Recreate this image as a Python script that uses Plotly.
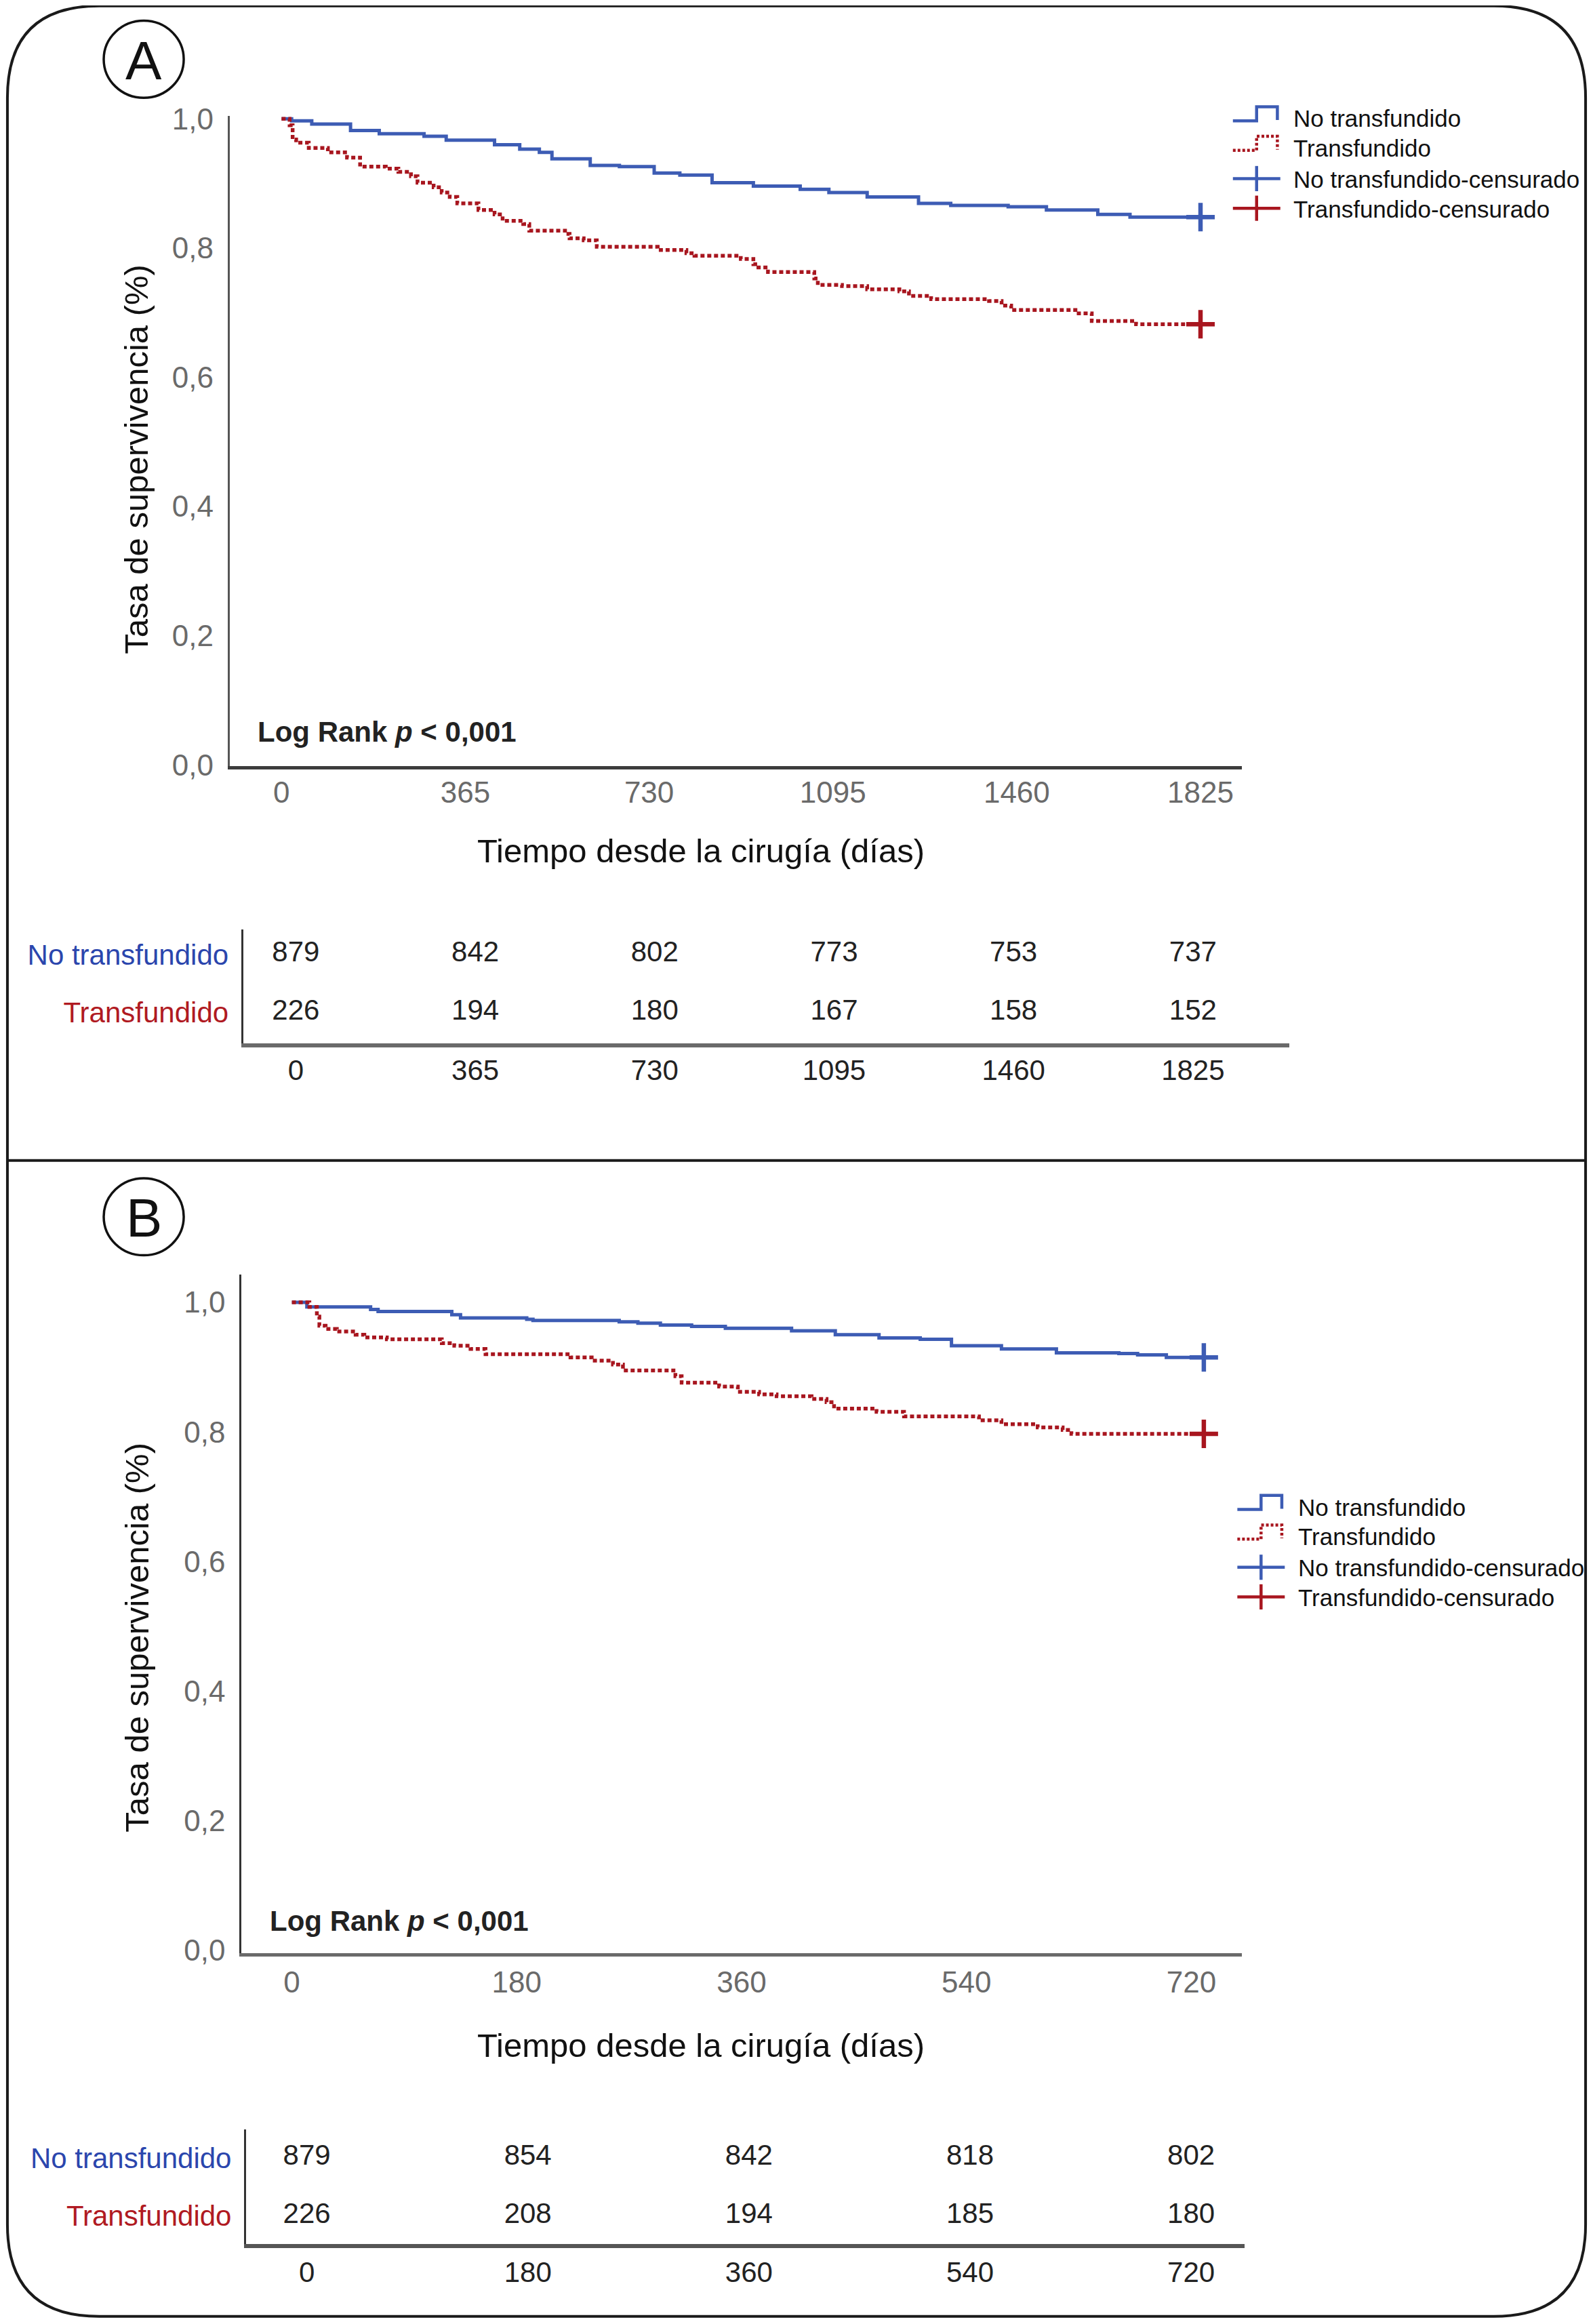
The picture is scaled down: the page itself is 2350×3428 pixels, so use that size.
import plotly.graph_objects as go

# ---------------- DATA ----------------
# Panel A (5 years)
time_A_no = [0, 20, 60, 137, 194, 283, 327, 423, 473, 512, 537, 613, 671, 740, 791, 855, 937,
             1030, 1087, 1163, 1265, 1329, 1443, 1519, 1621, 1685, 1825]
surv_A_no = [1.000, 0.997, 0.992, 0.982, 0.977, 0.973, 0.967, 0.960, 0.953, 0.948, 0.938, 0.928,
             0.926, 0.916, 0.913, 0.901, 0.896, 0.891, 0.886, 0.879, 0.869, 0.866, 0.864, 0.859,
             0.852, 0.848, 0.848]
time_A_tr = [0, 16, 22, 29, 54, 92, 130, 156, 207, 232, 257, 270, 302, 318, 334, 349, 391, 423,
             439, 480, 492, 563, 572, 600, 626, 747, 804, 820, 912, 937, 947, 966, 1058, 1065,
             1113, 1163, 1227, 1246, 1290, 1405, 1430, 1449, 1583, 1609, 1697, 1825]
surv_A_tr = [1.000, 0.990, 0.968, 0.963, 0.955, 0.948, 0.940, 0.926, 0.923, 0.918, 0.911, 0.901,
             0.894, 0.886, 0.879, 0.869, 0.859, 0.852, 0.842, 0.837, 0.827, 0.822, 0.815, 0.812,
             0.802, 0.797, 0.792, 0.788, 0.783, 0.775, 0.770, 0.763, 0.753, 0.743, 0.741, 0.736,
             0.733, 0.726, 0.721, 0.718, 0.711, 0.704, 0.699, 0.687, 0.682, 0.682]
cens_A_no = [1825]
cens_A_tr = [1825]

# Panel B (2 years)
time_B_no = [0, 12, 63, 69, 128, 135, 188, 193, 262, 277, 295, 320, 347, 400, 435, 470, 503,
             528, 568, 612, 662, 677, 700, 730]
surv_B_no = [1.000, 0.993, 0.989, 0.986, 0.981, 0.976, 0.974, 0.972, 0.970, 0.968, 0.965, 0.963,
             0.960, 0.956, 0.950, 0.945, 0.943, 0.933, 0.928, 0.922, 0.921, 0.919, 0.915, 0.915]
time_B_tr = [0, 14, 20, 22, 27, 36, 51, 58, 76, 120, 130, 143, 155, 223, 240, 257, 265, 307, 312,
             342, 357, 374, 388, 416, 428, 434, 468, 490, 550, 568, 597, 617, 624, 730]
surv_B_tr = [1.000, 0.993, 0.978, 0.964, 0.959, 0.955, 0.950, 0.946, 0.943, 0.937, 0.933, 0.928,
             0.920, 0.915, 0.910, 0.904, 0.895, 0.886, 0.876, 0.870, 0.862, 0.858, 0.855, 0.851,
             0.846, 0.836, 0.831, 0.824, 0.818, 0.812, 0.807, 0.803, 0.797, 0.797]
cens_B_no = [730]
cens_B_tr = [730]

# Risk tables
risk_times_A = [0, 365, 730, 1095, 1460, 1825]
risk_A_no = [879, 842, 802, 773, 753, 737]
risk_A_tr = [226, 194, 180, 167, 158, 152]
risk_times_B = [0, 180, 360, 540, 720]
risk_B_no = [879, 854, 842, 818, 802]
risk_B_tr = [226, 208, 194, 185, 180]

xticks_A = [0, 365, 730, 1095, 1460, 1825]
xticks_B = [0, 180, 360, 540, 720]
yticks = [0.0, 0.2, 0.4, 0.6, 0.8, 1.0]

group_labels = ["No transfundido", "Transfundido"]
legend_labels = ["No transfundido", "Transfundido", "No transfundido-censurado", "Transfundido-censurado"]
panel_letters = ["A", "B"]
x_title = "Tiempo desde la cirugía (días)"
y_title = "Tasa de supervivencia (%)"
logrank_text = "<b>Log Rank <i>p</i> &lt; 0,001</b>"

# ---------------- STYLE ----------------
W, H = 2350, 3428
S = 2350 / 1075.0
OFF = 8  # page body margin compensation (px)
BLUE = "#3d5cb4"
RED = "#a8161f"
BLUE_TXT = "#2b46ad"
RED_TXT = "#b01a22"
FONT = "Liberation Sans, Arial, sans-serif"


def fx(d):
    return (d * S - OFF) / W


def fy(d):
    return 1 - (d * S - OFF) / H


def surv_at(times, survs, t):
    v = survs[0]
    for ti, si in zip(times, survs):
        if ti <= t:
            v = si
    return v


fig = go.Figure()

panels = [
    dict(xa="x", ya="y", t_no=time_A_no, s_no=surv_A_no, t_tr=time_A_tr, s_tr=surv_A_tr,
         c_no=cens_A_no, c_tr=cens_A_tr),
    dict(xa="x2", ya="y2", t_no=time_B_no, s_no=surv_B_no, t_tr=time_B_tr, s_tr=surv_B_tr,
         c_no=cens_B_no, c_tr=cens_B_tr),
]
for p in panels:
    fig.add_trace(go.Scatter(x=p["t_no"], y=p["s_no"], mode="lines", line_shape="hv",
                             line=dict(color=BLUE, width=5), xaxis=p["xa"], yaxis=p["ya"],
                             name=legend_labels[0], hoverinfo="skip"))
    fig.add_trace(go.Scatter(x=p["t_tr"], y=p["s_tr"], mode="lines", line_shape="hv",
                             line=dict(color=RED, width=5.5, dash="6px,4px"),
                             xaxis=p["xa"], yaxis=p["ya"], name=legend_labels[1], hoverinfo="skip"))
    fig.add_trace(go.Scatter(x=p["c_no"], y=[surv_at(p["t_no"], p["s_no"], t) for t in p["c_no"]],
                             mode="markers", marker=dict(symbol="cross-thin", size=30,
                                                         line=dict(color=BLUE, width=6.5)),
                             xaxis=p["xa"], yaxis=p["ya"], name=legend_labels[2], hoverinfo="skip"))
    fig.add_trace(go.Scatter(x=p["c_tr"], y=[surv_at(p["t_tr"], p["s_tr"], t) for t in p["c_tr"]],
                             mode="markers", marker=dict(symbol="cross-thin", size=30,
                                                         line=dict(color=RED, width=6.5)),
                             xaxis=p["xa"], yaxis=p["ya"], name=legend_labels[3], hoverinfo="skip"))

# risk table numbers
for xa, ya, rt, rn, rtr in [("x3", "y3", risk_times_A, risk_A_no, risk_A_tr),
                            ("x4", "y4", risk_times_B, risk_B_no, risk_B_tr)]:
    fig.add_trace(go.Scatter(x=rt, y=[1] * len(rt), text=[str(v) for v in rn], mode="text",
                             textfont=dict(family=FONT, size=42, color="#222222"),
                             xaxis=xa, yaxis=ya, hoverinfo="skip"))
    fig.add_trace(go.Scatter(x=rt, y=[0] * len(rt), text=[str(v) for v in rtr], mode="text",
                             textfont=dict(family=FONT, size=42, color="#222222"),
                             xaxis=xa, yaxis=ya, hoverinfo="skip"))

tick_gray = dict(family=FONT, size=44, color="#6a6a6a")
common_x = dict(showgrid=False, zeroline=False, showline=True, ticks="", automargin=False,
                tickfont=tick_gray)
common_y = dict(showgrid=False, zeroline=False, showline=True, ticks="outside", automargin=False,
                tickcolor="rgba(0,0,0,0)", tickfont=tick_gray, tickvals=yticks, tickformat=".1f")
table_x = dict(showgrid=False, zeroline=False, showline=True, ticks="", automargin=False,
               tickfont=dict(family=FONT, size=42, color="#222222"))
table_y = dict(showgrid=False, zeroline=False, showline=True, automargin=False, linecolor="#333333",
               linewidth=3, tickvals=[0, 1], ticks="outside", tickcolor="rgba(0,0,0,0)", ticklen=10,
               tickfont=dict(family=FONT, size=42))

ticktext_rows = [f'<span style="color:{RED_TXT}">{group_labels[1]}</span>',
                 f'<span style="color:{BLUE_TXT}">{group_labels[0]}</span>']

fig.update_layout(
    width=W, height=H, margin=dict(l=0, r=0, t=0, b=0, pad=0, autoexpand=False),
    paper_bgcolor="white", plot_bgcolor="rgba(0,0,0,0)", showlegend=False,
    separators=",.",
    xaxis=dict(common_x, domain=[fx(155), fx(838)], range=[-103, 1907], tickvals=xticks_A,
               linecolor="#3c3c3c", linewidth=5, ticklabelstandoff=-4, anchor="y"),
    yaxis=dict(common_y, domain=[fy(517), fy(78)], range=[-0.002, 1.005],
               linecolor="#555555", linewidth=3, ticklen=12, anchor="x"),
    xaxis2=dict(common_x, domain=[fx(163), fx(838)], range=[-40.3, 760.4], tickvals=xticks_B,
                linecolor="#6a6a6a", linewidth=5, ticklabelstandoff=0, anchor="y2"),
    yaxis2=dict(common_y, domain=[fy(1318), fy(860)], range=[-0.005, 1.043],
                linecolor="#333333", linewidth=3, ticklen=12, anchor="x2"),
    xaxis3=dict(table_x, linecolor="#6a6a6a", linewidth=6,
                domain=[fx(164), fx(870)], range=[-107.4, 2020.8], tickvals=risk_times_A,
                ticklabelstandoff=-2, anchor="y3"),
    yaxis3=dict(table_y, domain=[fy(704), fy(627)], range=[-0.538, 1.436],
                ticktext=ticktext_rows, anchor="x3"),
    xaxis4=dict(table_x, linecolor="#555555", linewidth=6,
                domain=[fx(166), fx(840)], range=[-49.5, 763.7], tickvals=risk_times_B,
                ticklabelstandoff=0, anchor="y4"),
    yaxis4=dict(table_y, domain=[fy(1514), fy(1437)], range=[-0.487, 1.487],
                ticktext=ticktext_rows, anchor="x4"),
)

shapes = []
annotations = []

# outer rounded frame
L, R, T, B, r = 5, 1070, 4, 1563, 62
rx = lambda d: f"{fx(d):.5f}"
ry = lambda d: f"{fy(d):.5f}"
frame = (f"M {rx(L + r)},{ry(T)} L {rx(R - r)},{ry(T)} Q {rx(R)},{ry(T)} {rx(R)},{ry(T + r)} "
         f"L {rx(R)},{ry(B - r)} Q {rx(R)},{ry(B)} {rx(R - r)},{ry(B)} "
         f"L {rx(L + r)},{ry(B)} Q {rx(L)},{ry(B)} {rx(L)},{ry(B - r)} "
         f"L {rx(L)},{ry(T + r)} Q {rx(L)},{ry(T)} {rx(L + r)},{ry(T)} Z")
shapes.append(dict(type="path", path=frame, xref="paper", yref="paper",
                   line=dict(color="#1a1a1a", width=4)))
shapes.append(dict(type="line", xref="paper", yref="paper", x0=fx(L), x1=fx(R), y0=fy(783), y1=fy(783),
                   line=dict(color="#1a1a1a", width=4)))

# panel letters
for letter, cy in zip(panel_letters, [40, 821]):
    shapes.append(dict(type="circle", xref="paper", yref="paper", x0=fx(70), x1=fx(124),
                       y0=fy(cy + 26), y1=fy(cy - 26), line=dict(color="#111111", width=3.5)))
    annotations.append(dict(text=letter, x=fx(97), y=fy(cy + 1), xref="paper", yref="paper",
                            showarrow=False, xanchor="center", yanchor="middle",
                            font=dict(family=FONT, size=80, color="#111111")))

# axis titles and log rank text
for yc_title, yc_x, lr_x, lr_y in [(310, 574, 173, 494), (1105, 1380, 181, 1296)]:
    annotations.append(dict(text=y_title, x=fx(92), y=fy(yc_title), xref="paper", yref="paper",
                            showarrow=False, textangle=-90, xanchor="center", yanchor="middle",
                            font=dict(family=FONT, size=49, color="#111111")))
    annotations.append(dict(text=x_title, x=fx(473), y=fy(yc_x), xref="paper", yref="paper",
                            showarrow=False, xanchor="center", yanchor="middle",
                            font=dict(family=FONT, size=49, color="#111111")))
    annotations.append(dict(text=logrank_text, x=fx(lr_x), y=fy(lr_y), xref="paper", yref="paper",
                            showarrow=False, xanchor="left", yanchor="middle",
                            font=dict(family=FONT, size=42, color="#222222")))

# legends
for rows, x0, tx in [([80, 100, 121, 141], 832, 872), ([1017, 1037, 1058, 1078], 835, 875)]:
    cols = [BLUE, RED, BLUE, RED]
    for i, (yc, lab) in enumerate(zip(rows, legend_labels)):
        c = cols[i]
        if i < 2:
            path = (f"M {rx(x0)},{ry(yc + 1.5)} L {rx(x0 + 16)},{ry(yc + 1.5)} L {rx(x0 + 16)},{ry(yc - 8)} "
                    f"L {rx(x0 + 30)},{ry(yc - 8)} L {rx(x0 + 30)},{ry(yc + 1)}")
            shapes.append(dict(type="path", path=path, xref="paper", yref="paper",
                               line=dict(color=c, width=4.5, dash="solid" if i == 0 else "4px,3px")))
        else:
            shapes.append(dict(type="line", xref="paper", yref="paper", x0=fx(x0), x1=fx(x0 + 32),
                               y0=fy(yc - 0.5), y1=fy(yc - 0.5), line=dict(color=c, width=4.5)))
            shapes.append(dict(type="line", xref="paper", yref="paper", x0=fx(x0 + 16), x1=fx(x0 + 16),
                               y0=fy(yc - 9), y1=fy(yc + 8), line=dict(color=c, width=4.5)))
        annotations.append(dict(text=lab, x=fx(tx), y=fy(yc), xref="paper", yref="paper",
                                showarrow=False, xanchor="left", yanchor="middle",
                                font=dict(family=FONT, size=35, color="#111111")))

fig.update_layout(shapes=shapes, annotations=annotations)
fig.write_html("out.html")
